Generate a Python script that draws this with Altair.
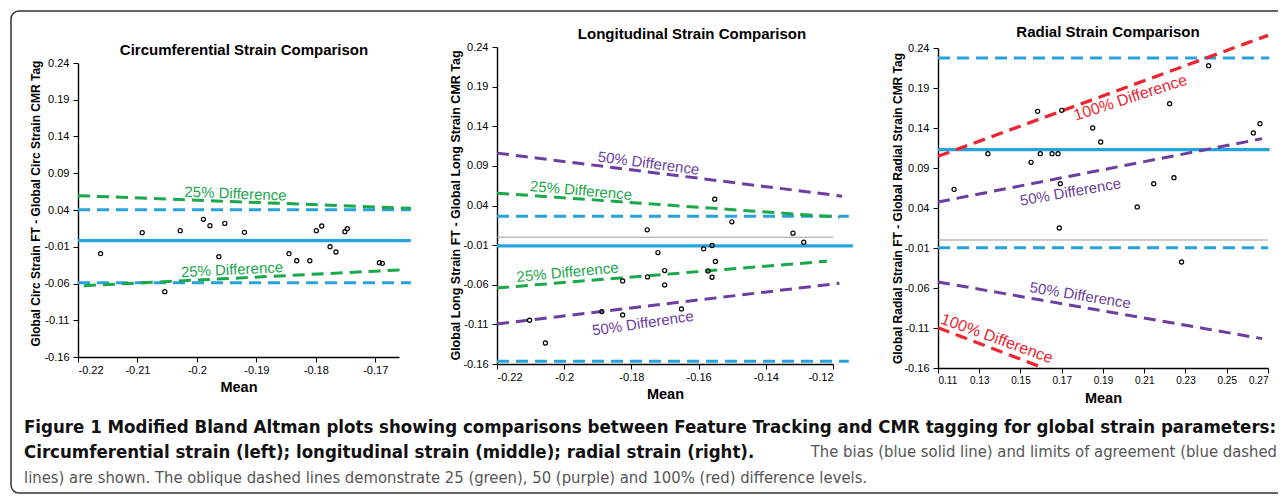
import altair as alt
import pandas as pd

FONT = "Liberation Sans"
CAPFONT = "DejaVu Sans Condensed, DejaVu Sans, sans-serif"
BLUE = "#27a2dc"
GREEN = "#1aa84b"
PURPLE = "#6b3fa0"
RED = "#ee2530"
GRAY = "#9a9a9a"

Y_TICKS = [-0.16, -0.11, -0.06, -0.01, 0.04, 0.09, 0.14, 0.19, 0.24]

# ---------------- Panel 1: circumferential ----------------
circ_mean = [-0.2162, -0.2092, -0.2054, -0.2028, -0.1989, -0.1978, -0.1963, -0.1953, -0.1920, -0.1845,
             -0.1832, -0.1810, -0.1799, -0.1790, -0.1776, -0.1766, -0.1751, -0.1747, -0.1693, -0.1688]
circ_diff = [-0.0194, 0.0092, -0.0711, 0.0119, 0.0273, 0.0187, -0.0235, 0.0218, 0.0096, -0.0194,
             -0.0290, -0.0290, 0.0119, 0.0182, -0.0099, -0.0171, 0.0105, 0.0146, -0.0317, -0.0326]
circ_x_ticks = [-0.22, -0.21, -0.2, -0.19, -0.18, -0.17]
# (x1, y1, x2, y2, colour, width)
circ_solid = [(-0.22, -0.0017, -0.164, -0.0017, BLUE, 3.2)]
circ_dashed = [(-0.22, 0.0405, -0.164, 0.0405, BLUE, 3),
               (-0.22, -0.0589, -0.164, -0.0589, BLUE, 3),
               (-0.22, 0.0595, -0.164, 0.0423, GREEN, 3),
               (-0.219, -0.0630, -0.165, -0.0412, GREEN, 3)]
# (x, y, text, angle, colour, size)
circ_labels = [(-0.1935, 0.0622, "25% Difference", 2.2, GREEN, 15),
               (-0.1941, -0.0412, "25% Difference", 357.2, GREEN, 15)]

# ---------------- Panel 2: longitudinal ----------------
long_mean = [-0.2103, -0.2056, -0.1888, -0.1826, -0.1826, -0.1753, -0.1752, -0.1721, -0.1701, -0.1701,
             -0.1651, -0.1585, -0.1572, -0.1560, -0.1560, -0.1550, -0.1552, -0.1501, -0.1319, -0.1287]
long_diff = [-0.1048, -0.1335, -0.0939, -0.0552, -0.0981, 0.0093, -0.0501, -0.0194, -0.0421, -0.0602,
             -0.0905, -0.0147, -0.0425, -0.0105, -0.0505, -0.0307, 0.0480, 0.0194, 0.0051, -0.0063]
long_x_ticks = [-0.22, -0.2, -0.18, -0.16, -0.14, -0.12]
long_solid = [(-0.22, 0.0, -0.12, 0.0, GRAY, 1),
              (-0.22, -0.0110, -0.1141, -0.0110, BLUE, 3.2)]
long_dashed = [(-0.22, 0.0265, -0.1153, 0.0265, BLUE, 3),
               (-0.22, -0.1566, -0.1153, -0.1566, BLUE, 3),
               (-0.22, 0.0556, -0.1181, 0.0253, GREEN, 3),
               (-0.22, -0.0640, -0.1218, -0.0303, GREEN, 3),
               (-0.22, 0.1061, -0.1173, 0.0518, PURPLE, 3),
               (-0.22, -0.1095, -0.1181, -0.0581, PURPLE, 3)]
long_labels = [(-0.1749, 0.0935, "50% Difference", 7.5, PURPLE, 15),
               (-0.1950, 0.0589, "25% Difference", 5.0, GREEN, 15),
               (-0.1990, -0.0442, "25% Difference", 354.6, GREEN, 15),
               (-0.1766, -0.1086, "50% Difference", 351.7, PURPLE, 15)]

# ---------------- Panel 3: radial ----------------
rad_mean = [0.1178, 0.1342, 0.1551, 0.1583, 0.1596, 0.1653, 0.1682, 0.1693, 0.1688, 0.1700,
            0.1850, 0.1889, 0.2066, 0.2146, 0.2223, 0.2244, 0.2281, 0.2412, 0.2629, 0.2661]
rad_diff = [0.0633, 0.1079, 0.0971, 0.1608, 0.1079, 0.1079, 0.1079, 0.0704, 0.0150, 0.1621,
            0.1400, 0.1225, 0.0413, 0.0704, 0.1704, 0.0779, -0.0275, 0.2179, 0.1338, 0.1454]
rad_x_ticks = [0.11, 0.13, 0.15, 0.17, 0.19, 0.21, 0.23, 0.25, 0.27]
rad_solid = [(0.11, 0.0, 0.27, 0.0, GRAY, 1),
             (0.11, 0.1129, 0.2708, 0.1129, BLUE, 3.2)]
rad_dashed = [(0.11, 0.2275, 0.2706, 0.2275, BLUE, 3),
              (0.11, -0.0096, 0.27, -0.0096, BLUE, 3),
              (0.11, 0.0475, 0.2671, 0.1267, PURPLE, 3),
              (0.11, -0.0525, 0.2671, -0.1233, PURPLE, 3),
              (0.11, 0.1046, 0.27, 0.2558, RED, 3.3),
              (0.11, -0.1096, 0.1612, -0.16, RED, 3.3)]
rad_labels = [(0.2033, 0.1779, "100% Difference", 342.0, RED, 16),
              (0.1742, 0.0600, "50% Difference", 350.0, PURPLE, 15),
              (0.1790, -0.0692, "50% Difference", 9.2, PURPLE, 15),
              (0.1386, -0.1233, "100% Difference", 20.0, RED, 16)]

CAPTION_1 = ("Figure 1 Modified Bland Altman plots showing comparisons between Feature Tracking "
             "and CMR tagging for global strain parameters:")
CAPTION_2B = "Circumferential strain (left); longitudinal strain (middle); radial strain (right)."
CAPTION_2R = "The bias (blue solid line) and limits of agreement (blue dashed"
CAPTION_3 = ("lines) are shown. The oblique dashed lines demonstrate 25 (green), 50 (purple) "
             "and 100% (red) difference levels.")

LABEL_EXPR = "replace(format(datum.value, '.2~f'), '\u2212', '-')"
ONE = pd.DataFrame({"k": [0]})


def panel(mean, diff, solid, dashed, labels, xdomain, xticks, xrange, width, height, yrange,
          title, title_xy, ytitle, ytitle_xy, ytitle_size, xlabel_size, extra=None):
    xs = alt.Scale(domain=xdomain, range=xrange, nice=False, zero=False)
    ys = alt.Scale(domain=[-0.16, 0.24], range=yrange, nice=False, zero=False)
    xaxis = alt.Axis(values=xticks, labelExpr=LABEL_EXPR, title="Mean", titleFontSize=14.5,
                     titleFontWeight="bold", titleY=30, titleBaseline="middle",
                     labelFontSize=xlabel_size, tickSize=5, labelPadding=2, grid=False)
    yaxis = alt.Axis(values=Y_TICKS, labelExpr=LABEL_EXPR, title=ytitle, titleFontSize=ytitle_size,
                     titleFontWeight="bold", titleX=ytitle_xy[0], titleY=ytitle_xy[1],
                     titleAngle=270, titleAlign="center", titleBaseline="middle",
                     labelFontSize=11, tickSize=5, labelPadding=4, grid=False)

    pts = pd.DataFrame({"mean": mean, "diff": diff})
    sol = pd.DataFrame(solid, columns=["x1", "y1", "x2", "y2", "c", "w"])
    das = pd.DataFrame(dashed, columns=["x1", "y1", "x2", "y2", "c", "w"])
    lab = pd.DataFrame(labels, columns=["x", "y", "t", "a", "c", "s"])

    def seg_enc(ch):
        return ch.encode(
            x=alt.X("x1:Q", scale=xs, axis=xaxis),
            y=alt.Y("y1:Q", scale=ys, axis=yaxis),
            x2="x2:Q", y2="y2:Q",
            color=alt.Color("c:N", scale=None),
            strokeWidth=alt.StrokeWidth("w:Q", scale=None),
        )

    solid_layer = seg_enc(alt.Chart(sol).mark_rule())
    dashed_layer = seg_enc(alt.Chart(das).mark_rule(strokeDash=[12, 7]))
    point_layer = alt.Chart(pts).mark_point(shape="circle", filled=False, size=17, color="#000",
                                            strokeWidth=1.2, opacity=1).encode(
        x=alt.X("mean:Q", scale=xs, axis=xaxis),
        y=alt.Y("diff:Q", scale=ys, axis=yaxis),
    )
    label_layer = alt.Chart(lab).mark_text(font=FONT, align="center", baseline="middle").encode(
        x=alt.X("x:Q", scale=xs, axis=xaxis),
        y=alt.Y("y:Q", scale=ys, axis=yaxis),
        text="t:N",
        angle=alt.Angle("a:Q", scale=None),
        color=alt.Color("c:N", scale=None),
        size=alt.Size("s:Q", scale=None),
    )
    title_layer = alt.Chart(ONE).mark_text(font=FONT, fontSize=15, fontWeight="bold", color="#000",
                                           align="center", baseline="middle").encode(
        x=alt.value(title_xy[0]), y=alt.value(title_xy[1]), text=alt.value(title))
    layers = [solid_layer, dashed_layer, point_layer, label_layer, title_layer]
    if extra:
        layers += extra
    return alt.layer(*layers).properties(width=width, height=height)


# Frame and caption, drawn in panel-1 pixel space
FR = dict(color="#333", strokeWidth=1.5)
frame = [
    alt.Chart(ONE).mark_rule(**FR).encode(x=alt.value(-59), x2=alt.value(1200), y=alt.value(-36)),
    alt.Chart(ONE).mark_rule(**FR).encode(x=alt.value(-59), x2=alt.value(1200), y=alt.value(446)),
    alt.Chart(ONE).mark_rule(**FR).encode(x=alt.value(-67), y=alt.value(-28), y2=alt.value(438)),
    alt.Chart(ONE).mark_arc(radius=8, radius2=8, theta=4.712389, theta2=6.283185, filled=False,
                            stroke="#333", strokeWidth=1.5).encode(x=alt.value(-59), y=alt.value(-28)),
    alt.Chart(ONE).mark_arc(radius=8, radius2=8, theta=3.141593, theta2=4.712389, filled=False,
                            stroke="#333", strokeWidth=1.5).encode(x=alt.value(-59), y=alt.value(438)),
]
caption = [
    alt.Chart(ONE).mark_text(align="left", fontWeight="bold", color="#111", font=CAPFONT,
                             fontSize=18.5, baseline="middle").encode(
        x=alt.value(-54), y=alt.value(380), text=alt.value(CAPTION_1)),
    alt.Chart(ONE).mark_text(align="left", fontWeight="bold", color="#111", font=CAPFONT,
                             fontSize=18.5, baseline="middle").encode(
        x=alt.value(-54), y=alt.value(405), text=alt.value(CAPTION_2B)),
    alt.Chart(ONE).mark_text(align="right", color="#555", font=CAPFONT,
                             fontSize=16.5, baseline="middle").encode(
        x=alt.value(1199), y=alt.value(405), text=alt.value(CAPTION_2R)),
    alt.Chart(ONE).mark_text(align="left", color="#555", font=CAPFONT,
                             fontSize=16.5, baseline="middle").encode(
        x=alt.value(-54), y=alt.value(431), text=alt.value(CAPTION_3)),
]

p1 = panel(circ_mean, circ_diff, circ_solid, circ_dashed, circ_labels,
           [-0.22, -0.166], circ_x_ticks, [0, 321], 321, 310, [310, 16],
           "Circumferential Strain Comparison", (166, 3),
           "Global Circ Strain FT - Global Circ Strain CMR Tag", (-43, 156), 12, 11,
           extra=frame + caption)
p2 = panel(long_mean, long_diff, long_solid, long_dashed, long_labels,
           [-0.22, -0.12], long_x_ticks, [0, 336], 343, 317, [317, 0],
           "Longitudinal Strain Comparison", (195, -13.5),
           "Global Long Strain FT - Global Long Strain CMR Tag", (-42, 158), 12.5, 11)
p3 = panel(rad_mean, rad_diff, rad_solid, rad_dashed, rad_labels,
           [0.11, 0.27], rad_x_ticks, [0, 330], 330, 321, [321, 1],
           "Radial Strain Comparison", (170, -15),
           "Global Radial Strain FT - Global Radial Strain CMR Tag", (-41, 161), 12, 10)

chart = alt.hconcat(p1, p2, p3, spacing=98, bounds="flush").properties(
    padding={"left": 0, "top": 0, "right": 0, "bottom": 0}
).configure_view(stroke=None).configure_axis(
    domainColor="#000", domainWidth=1.4, tickColor="#000", tickWidth=1,
    labelColor="#000", labelFont=FONT, titleFont=FONT, titleColor="#000", grid=False
)

chart.save("out.html", embed_options={"renderer": "svg", "actions": False})
